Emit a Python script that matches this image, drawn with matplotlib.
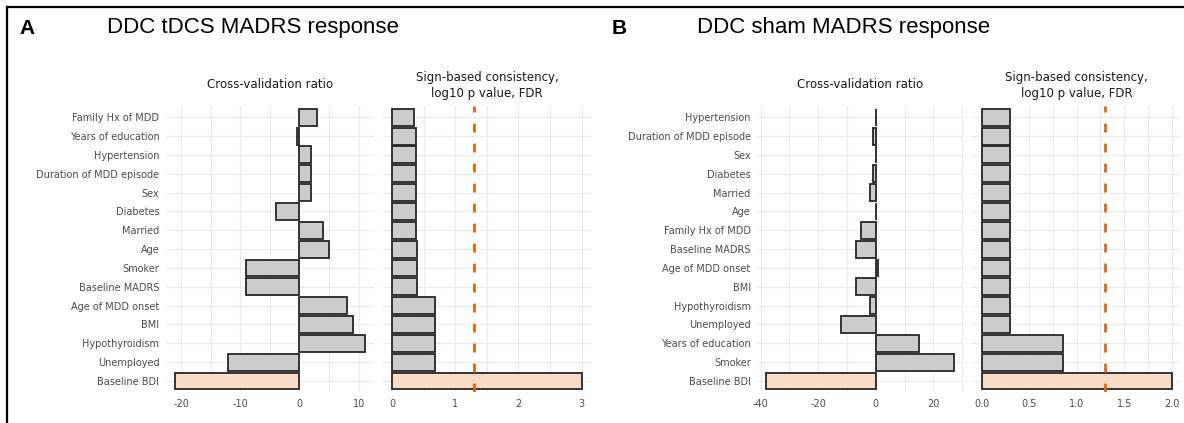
import numpy as np
import matplotlib
matplotlib.use("Agg")
from matplotlib import pyplot as plt
from matplotlib.lines import Line2D
from matplotlib.ticker import MultipleLocator, FormatStrFormatter

# panel A: DDC tDCS
labels_a = ["Family Hx of MDD", "Years of education", "Hypertension", "Duration of MDD episode",
            "Sex", "Diabetes", "Married", "Age", "Smoker", "Baseline MADRS", "Age of MDD onset",
            "BMI", "Hypothyroidism", "Unemployed", "Baseline BDI"]
cv_a = [3, -0.4, 2, 2, 2, -4, 4, 5, -9, -9, 8, 9, 11, -12, -21]
sign_a = [0.34, 0.37, 0.37, 0.37, 0.37, 0.37, 0.37, 0.39, 0.39, 0.39, 0.68, 0.68, 0.68, 0.68, 3.0]

# panel B: DDC sham
labels_b = ["Hypertension", "Duration of MDD episode", "Sex", "Diabetes", "Married", "Age",
            "Family Hx of MDD", "Baseline MADRS", "Age of MDD onset", "BMI", "Hypothyroidism",
            "Unemployed", "Years of education", "Smoker", "Baseline BDI"]
cv_b = [0.15, -0.9, 0.15, -1.1, -2.1, 0.15, -5, -7, 0.9, -7, -2, -12, 15, 27, -38]
sign_b = [0.3, 0.3, 0.3, 0.3, 0.3, 0.3, 0.3, 0.3, 0.3, 0.3, 0.3, 0.3, 0.86, 0.86, 2.0]

highlight = "Baseline BDI"
fdr_line = 1.3  # -log10(0.05)

W, H = 1184, 423
GRAY_FILL = "#cccccc"
PEACH = "#f9dcc8"
EDGE = "#262626"
GRID = "#ebebeb"
TXT = "#4d4d4d"
ORANGE = "#e2661a"


def px_axes(fig, x0, x1, y0, y1):
    # pixel box (top-left origin) -> figure fraction
    return fig.add_axes([x0 / W, 1 - y1 / H, (x1 - x0) / W, (y1 - y0) / H])


def style_axes(ax, labels, show_labels):
    n = len(labels)
    ax.set_ylim(-0.6, n - 0.4)
    ax.set_yticks(np.arange(n))
    if show_labels:
        ax.set_yticklabels(labels[::-1], fontsize=7, color=TXT)
    else:
        ax.set_yticklabels([])
    for s in ax.spines.values():
        s.set_visible(False)
    ax.tick_params(axis="both", which="both", length=0, labelsize=7, labelcolor=TXT)
    ax.tick_params(axis="y", pad=4.5)
    ax.tick_params(axis="x", pad=5)
    ax.grid(True, which="both", color=GRID, linewidth=0.8)
    ax.set_axisbelow(True)


def draw_bars(ax, labels, values):
    n = len(labels)
    pos = np.arange(n)[::-1]
    colors = [PEACH if lab == highlight else GRAY_FILL for lab in labels]
    ax.barh(pos, values, height=0.9, color=colors, edgecolor=EDGE, linewidth=1.3, zorder=3)


plt.rcParams["font.family"] = "DejaVu Sans"
fig = plt.figure(figsize=(W / 100, H / 100), dpi=100)

panels = [
    dict(letter="A", title="DDC tDCS MADRS response", labels=labels_a, cv=cv_a, sign=sign_a,
         letter_x=27, title_x=107,
         cv_box=(165.7, 374.0), sign_box=(382.8, 591.0),
         cv_lim=(-22.6, 12.6), cv_major=10, cv_minor=5,
         sign_lim=(-0.15, 3.15), sign_major=1, sign_minor=0.5, sign_fmt="%d"),
    dict(letter="B", title="DDC sham MADRS response", labels=labels_b, cv=cv_b, sign=sign_b,
         letter_x=619, title_x=697,
         cv_box=(757.0, 963.0), sign_box=(972.2, 1181.2),
         cv_lim=(-41.25, 30.25), cv_major=20, cv_minor=10,
         sign_lim=(-0.1, 2.1), sign_major=0.5, sign_minor=0.25, sign_fmt="%.1f"),
]

top, bottom = 106.0, 392.3

for p in panels:
    ax1 = px_axes(fig, p["cv_box"][0], p["cv_box"][1], top, bottom)
    draw_bars(ax1, p["labels"], p["cv"])
    style_axes(ax1, p["labels"], True)
    ax1.set_xlim(*p["cv_lim"])
    ax1.xaxis.set_major_locator(MultipleLocator(p["cv_major"]))
    ax1.xaxis.set_minor_locator(MultipleLocator(p["cv_minor"]))
    ax1.xaxis.set_major_formatter(FormatStrFormatter("%d"))

    ax2 = px_axes(fig, p["sign_box"][0], p["sign_box"][1], top, bottom)
    draw_bars(ax2, p["labels"], p["sign"])
    style_axes(ax2, p["labels"], False)
    ax2.set_xlim(*p["sign_lim"])
    ax2.xaxis.set_major_locator(MultipleLocator(p["sign_major"]))
    ax2.xaxis.set_minor_locator(MultipleLocator(p["sign_minor"]))
    ax2.xaxis.set_major_formatter(FormatStrFormatter(p["sign_fmt"]))
    ax2.axvline(fdr_line, color=ORANGE, linewidth=2.0, dashes=(3.2, 4.0), zorder=4)

    # strip titles
    cx1 = (p["cv_box"][0] + p["cv_box"][1]) / 2
    cx2 = (p["sign_box"][0] + p["sign_box"][1]) / 2
    fig.text(cx1 / W, 1 - 85 / H, "Cross-validation ratio", ha="center", va="center",
             fontsize=8.5, color="#1a1a1a")
    fig.text(cx2 / W, 1 - 85.5 / H, "Sign-based consistency,\nlog10 p value, FDR", ha="center",
             va="center", fontsize=8.5, color="#1a1a1a", linespacing=1.25)

    # panel letter and title
    fig.text(p["letter_x"] / W, 1 - 28 / H, p["letter"], ha="center", va="center",
             fontsize=15, fontweight="bold", family="Liberation Sans")
    fig.text(p["title_x"] / W, 1 - 28 / H, p["title"], ha="left", va="center",
             fontsize=16, family="Liberation Sans")

# frame lines
fig.add_artist(Line2D([7 / W, 1], [1 - 7 / H, 1 - 7 / H], color="black", linewidth=1.6,
                      transform=fig.transFigure))
fig.add_artist(Line2D([7 / W, 7 / W], [1 - 7 / H, 0], color="black", linewidth=1.6,
                      transform=fig.transFigure))

fig.savefig("out.png", dpi=100)
